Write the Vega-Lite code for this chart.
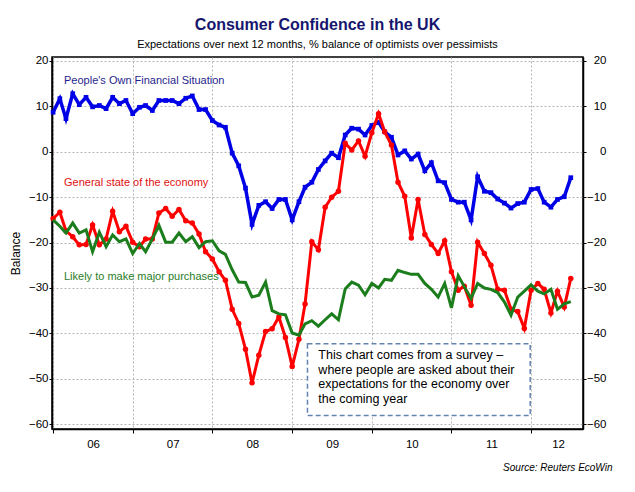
{
  "$schema": "https://vega.github.io/schema/vega-lite/v6.json",
  "width": 531,
  "height": 372,
  "autosize": {"type": "none"},
  "padding": {"left": 52, "top": 57, "right": 52, "bottom": 63},
  "background": "white",
  "config": {
    "font": "Liberation Sans",
    "view": {"stroke": "black", "strokeWidth": 1.5},
    "axis": {"labelFont": "Liberation Sans", "labelFontSize": 11.5, "labelColor": "black", "domainColor": "black", "domainWidth": 1.5, "tickColor": "black", "tickWidth": 1, "titleFont": "Liberation Sans"}
  },
  "title": {
    "text": "Consumer Confidence in the UK",
    "subtitle": "Expectations over next 12  months, % balance of optimists over pessimists",
    "anchor": "middle",
    "frame": "group",
    "font": "Liberation Sans",
    "fontSize": 16,
    "fontWeight": "bold",
    "color": "#16166e",
    "subtitleFont": "Liberation Sans",
    "subtitleFontSize": 11,
    "subtitleColor": "black",
    "subtitlePadding": 6,
    "offset": 5
  },
  "data": {"values": [
    {"s":"own","d":"2006-01-01","v":8.7},{"s":"own","d":"2006-02-01","v":11.7},{"s":"own","d":"2006-03-01","v":7.3},{"s":"own","d":"2006-04-01","v":12.8},{"s":"own","d":"2006-05-01","v":10.4},{"s":"own","d":"2006-06-01","v":12},{"s":"own","d":"2006-07-01","v":9.9},{"s":"own","d":"2006-08-01","v":10.2},{"s":"own","d":"2006-09-01","v":9.5},{"s":"own","d":"2006-10-01","v":12},{"s":"own","d":"2006-11-01","v":10.6},{"s":"own","d":"2006-12-01","v":11.3},
    {"s":"own","d":"2007-01-01","v":8.4},{"s":"own","d":"2007-02-01","v":9.8},{"s":"own","d":"2007-03-01","v":10.2},{"s":"own","d":"2007-04-01","v":9.1},{"s":"own","d":"2007-05-01","v":11.3},{"s":"own","d":"2007-06-01","v":11.3},{"s":"own","d":"2007-07-01","v":11.3},{"s":"own","d":"2007-08-01","v":10.6},{"s":"own","d":"2007-09-01","v":11.8},{"s":"own","d":"2007-10-01","v":12.3},{"s":"own","d":"2007-11-01","v":9.3},{"s":"own","d":"2007-12-01","v":9.3},
    {"s":"own","d":"2008-01-01","v":6.9},{"s":"own","d":"2008-02-01","v":5.9},{"s":"own","d":"2008-03-01","v":5.4},{"s":"own","d":"2008-04-01","v":-0.3},{"s":"own","d":"2008-05-01","v":-3.1},{"s":"own","d":"2008-06-01","v":-8},{"s":"own","d":"2008-07-01","v":-16},{"s":"own","d":"2008-08-01","v":-11.8},{"s":"own","d":"2008-09-01","v":-11},{"s":"own","d":"2008-10-01","v":-12.5},{"s":"own","d":"2008-11-01","v":-10.5},{"s":"own","d":"2008-12-01","v":-10.5},
    {"s":"own","d":"2009-01-01","v":-15},{"s":"own","d":"2009-02-01","v":-11},{"s":"own","d":"2009-03-01","v":-7.8},{"s":"own","d":"2009-04-01","v":-6.7},{"s":"own","d":"2009-05-01","v":-3.9},{"s":"own","d":"2009-06-01","v":-2},{"s":"own","d":"2009-07-01","v":-0.3},{"s":"own","d":"2009-08-01","v":-1.3},{"s":"own","d":"2009-09-01","v":3.7},{"s":"own","d":"2009-10-01","v":5.2},{"s":"own","d":"2009-11-01","v":5},{"s":"own","d":"2009-12-01","v":3.7},
    {"s":"own","d":"2010-01-01","v":5.8},{"s":"own","d":"2010-02-01","v":6.5},{"s":"own","d":"2010-03-01","v":4.4},{"s":"own","d":"2010-04-01","v":3.2},{"s":"own","d":"2010-05-01","v":-0.7},{"s":"own","d":"2010-06-01","v":0.2},{"s":"own","d":"2010-07-01","v":-1.6},{"s":"own","d":"2010-08-01","v":-0.5},{"s":"own","d":"2010-09-01","v":-4.2},{"s":"own","d":"2010-10-01","v":-2.4},{"s":"own","d":"2010-11-01","v":-6.4},{"s":"own","d":"2010-12-01","v":-6.8},
    {"s":"own","d":"2011-01-01","v":-10.5},{"s":"own","d":"2011-02-01","v":-11.1},{"s":"own","d":"2011-03-01","v":-11.1},{"s":"own","d":"2011-04-01","v":-15},{"s":"own","d":"2011-05-01","v":-5.5},{"s":"own","d":"2011-06-01","v":-8.7},{"s":"own","d":"2011-07-01","v":-9},{"s":"own","d":"2011-08-01","v":-10.4},{"s":"own","d":"2011-09-01","v":-11.3},{"s":"own","d":"2011-10-01","v":-12.4},{"s":"own","d":"2011-11-01","v":-11.4},{"s":"own","d":"2011-12-01","v":-11.1},
    {"s":"own","d":"2012-01-01","v":-8.3},{"s":"own","d":"2012-02-01","v":-8.1},{"s":"own","d":"2012-03-01","v":-11.1},{"s":"own","d":"2012-04-01","v":-12.2},{"s":"own","d":"2012-05-01","v":-10.5},{"s":"own","d":"2012-06-01","v":-9.9},{"s":"own","d":"2012-07-01","v":-5.7},
    {"s":"gen","d":"2006-01-01","v":-14.7},{"s":"gen","d":"2006-02-01","v":-13.3},{"s":"gen","d":"2006-03-01","v":-17.4},{"s":"gen","d":"2006-04-01","v":-18.7},{"s":"gen","d":"2006-05-01","v":-20.5},{"s":"gen","d":"2006-06-01","v":-20.4},{"s":"gen","d":"2006-07-01","v":-16.1},{"s":"gen","d":"2006-08-01","v":-20.5},{"s":"gen","d":"2006-09-01","v":-19.2},{"s":"gen","d":"2006-10-01","v":-13.1},{"s":"gen","d":"2006-11-01","v":-17.6},{"s":"gen","d":"2006-12-01","v":-16.4},
    {"s":"gen","d":"2007-01-01","v":-19.9},{"s":"gen","d":"2007-02-01","v":-20.9},{"s":"gen","d":"2007-03-01","v":-19.2},{"s":"gen","d":"2007-04-01","v":-19.2},{"s":"gen","d":"2007-05-01","v":-13.5},{"s":"gen","d":"2007-06-01","v":-12.5},{"s":"gen","d":"2007-07-01","v":-14.2},{"s":"gen","d":"2007-08-01","v":-12.7},{"s":"gen","d":"2007-09-01","v":-15.2},{"s":"gen","d":"2007-10-01","v":-15.7},{"s":"gen","d":"2007-11-01","v":-18.1},{"s":"gen","d":"2007-12-01","v":-22},
    {"s":"gen","d":"2008-01-01","v":-23.6},{"s":"gen","d":"2008-02-01","v":-26.4},{"s":"gen","d":"2008-03-01","v":-28.3},{"s":"gen","d":"2008-04-01","v":-34.7},{"s":"gen","d":"2008-05-01","v":-37.8},{"s":"gen","d":"2008-06-01","v":-43.5},{"s":"gen","d":"2008-07-01","v":-50.9},{"s":"gen","d":"2008-08-01","v":-44.8},{"s":"gen","d":"2008-09-01","v":-39.6},{"s":"gen","d":"2008-10-01","v":-39},{"s":"gen","d":"2008-11-01","v":-36.4},{"s":"gen","d":"2008-12-01","v":-40.9},
    {"s":"gen","d":"2009-01-01","v":-47.3},{"s":"gen","d":"2009-02-01","v":-41.3},{"s":"gen","d":"2009-03-01","v":-33.5},{"s":"gen","d":"2009-04-01","v":-19.8},{"s":"gen","d":"2009-05-01","v":-21.6},{"s":"gen","d":"2009-06-01","v":-12.2},{"s":"gen","d":"2009-07-01","v":-10},{"s":"gen","d":"2009-08-01","v":-8.7},{"s":"gen","d":"2009-09-01","v":1.9},{"s":"gen","d":"2009-10-01","v":0.4},{"s":"gen","d":"2009-11-01","v":2.4},{"s":"gen","d":"2009-12-01","v":-1},
    {"s":"gen","d":"2010-01-01","v":4.2},{"s":"gen","d":"2010-02-01","v":8.4},{"s":"gen","d":"2010-03-01","v":4.4},{"s":"gen","d":"2010-04-01","v":1.5},{"s":"gen","d":"2010-05-01","v":-6.7},{"s":"gen","d":"2010-06-01","v":-9.8},{"s":"gen","d":"2010-07-01","v":-19},{"s":"gen","d":"2010-08-01","v":-10.5},{"s":"gen","d":"2010-09-01","v":-18.2},{"s":"gen","d":"2010-10-01","v":-20.4},{"s":"gen","d":"2010-11-01","v":-22.4},{"s":"gen","d":"2010-12-01","v":-19.6},
    {"s":"gen","d":"2011-01-01","v":-26.4},{"s":"gen","d":"2011-02-01","v":-30.5},{"s":"gen","d":"2011-03-01","v":-29.6},{"s":"gen","d":"2011-04-01","v":-33.8},{"s":"gen","d":"2011-05-01","v":-19.9},{"s":"gen","d":"2011-06-01","v":-22.4},{"s":"gen","d":"2011-07-01","v":-25},{"s":"gen","d":"2011-08-01","v":-30.3},{"s":"gen","d":"2011-09-01","v":-30.5},{"s":"gen","d":"2011-10-01","v":-34.7},{"s":"gen","d":"2011-11-01","v":-35.2},{"s":"gen","d":"2011-12-01","v":-38.9},
    {"s":"gen","d":"2012-01-01","v":-30.5},{"s":"gen","d":"2012-02-01","v":-29},{"s":"gen","d":"2012-03-01","v":-30.3},{"s":"gen","d":"2012-04-01","v":-35.5},{"s":"gen","d":"2012-05-01","v":-30.7},{"s":"gen","d":"2012-06-01","v":-34.2},{"s":"gen","d":"2012-07-01","v":-27.9},
    {"s":"maj","d":"2006-01-01","v":-15},{"s":"maj","d":"2006-02-01","v":-16.4},{"s":"maj","d":"2006-03-01","v":-17.9},{"s":"maj","d":"2006-04-01","v":-15.7},{"s":"maj","d":"2006-05-01","v":-17.9},{"s":"maj","d":"2006-06-01","v":-17.2},{"s":"maj","d":"2006-07-01","v":-22},{"s":"maj","d":"2006-08-01","v":-17.7},{"s":"maj","d":"2006-09-01","v":-20.9},{"s":"maj","d":"2006-10-01","v":-18.3},{"s":"maj","d":"2006-11-01","v":-19.8},{"s":"maj","d":"2006-12-01","v":-19.2},
    {"s":"maj","d":"2007-01-01","v":-22.4},{"s":"maj","d":"2007-02-01","v":-20.2},{"s":"maj","d":"2007-03-01","v":-22},{"s":"maj","d":"2007-04-01","v":-19.2},{"s":"maj","d":"2007-05-01","v":-16.2},{"s":"maj","d":"2007-06-01","v":-19.9},{"s":"maj","d":"2007-07-01","v":-19.9},{"s":"maj","d":"2007-08-01","v":-17.9},{"s":"maj","d":"2007-09-01","v":-19.8},{"s":"maj","d":"2007-10-01","v":-18.7},{"s":"maj","d":"2007-11-01","v":-21.1},{"s":"maj","d":"2007-12-01","v":-19.8},
    {"s":"maj","d":"2008-01-01","v":-19.6},{"s":"maj","d":"2008-02-01","v":-21.8},{"s":"maj","d":"2008-03-01","v":-22.6},{"s":"maj","d":"2008-04-01","v":-26},{"s":"maj","d":"2008-05-01","v":-28.7},{"s":"maj","d":"2008-06-01","v":-28.8},{"s":"maj","d":"2008-07-01","v":-32},{"s":"maj","d":"2008-08-01","v":-31.6},{"s":"maj","d":"2008-09-01","v":-28.7},{"s":"maj","d":"2008-10-01","v":-35},{"s":"maj","d":"2008-11-01","v":-35.7},{"s":"maj","d":"2008-12-01","v":-35.9},
    {"s":"maj","d":"2009-01-01","v":-39.9},{"s":"maj","d":"2009-02-01","v":-40.4},{"s":"maj","d":"2009-03-01","v":-37.9},{"s":"maj","d":"2009-04-01","v":-37.2},{"s":"maj","d":"2009-05-01","v":-38.4},{"s":"maj","d":"2009-06-01","v":-37},{"s":"maj","d":"2009-07-01","v":-35.7},{"s":"maj","d":"2009-08-01","v":-37},{"s":"maj","d":"2009-09-01","v":-30.2},{"s":"maj","d":"2009-10-01","v":-28.7},{"s":"maj","d":"2009-11-01","v":-29.4},{"s":"maj","d":"2009-12-01","v":-31.5},
    {"s":"maj","d":"2010-01-01","v":-29},{"s":"maj","d":"2010-02-01","v":-30},{"s":"maj","d":"2010-03-01","v":-28.1},{"s":"maj","d":"2010-04-01","v":-28.3},{"s":"maj","d":"2010-05-01","v":-26.1},{"s":"maj","d":"2010-06-01","v":-26.6},{"s":"maj","d":"2010-07-01","v":-27},{"s":"maj","d":"2010-08-01","v":-27},{"s":"maj","d":"2010-09-01","v":-29},{"s":"maj","d":"2010-10-01","v":-30.3},{"s":"maj","d":"2010-11-01","v":-32},{"s":"maj","d":"2010-12-01","v":-29},
    {"s":"maj","d":"2011-01-01","v":-34.4},{"s":"maj","d":"2011-02-01","v":-27.3},{"s":"maj","d":"2011-03-01","v":-29.7},{"s":"maj","d":"2011-04-01","v":-32.3},{"s":"maj","d":"2011-05-01","v":-29},{"s":"maj","d":"2011-06-01","v":-30},{"s":"maj","d":"2011-07-01","v":-30.3},{"s":"maj","d":"2011-08-01","v":-31},{"s":"maj","d":"2011-09-01","v":-33.1},{"s":"maj","d":"2011-10-01","v":-36},{"s":"maj","d":"2011-11-01","v":-32},{"s":"maj","d":"2011-12-01","v":-30.7},
    {"s":"maj","d":"2012-01-01","v":-29.3},{"s":"maj","d":"2012-02-01","v":-30.7},{"s":"maj","d":"2012-03-01","v":-31.3},{"s":"maj","d":"2012-04-01","v":-30.3},{"s":"maj","d":"2012-05-01","v":-34.7},{"s":"maj","d":"2012-06-01","v":-33.5},{"s":"maj","d":"2012-07-01","v":-33}
  ]},
  "encoding": {
    "x": {
      "field": "d",
      "type": "temporal",
      "scale": {"type": "utc", "domain": [{"year": 2005, "month": 12, "date": 27, "utc": true}, {"year": 2012, "month": 8, "date": 26, "utc": true}], "nice": false},
      "axis": {
        "orient": "bottom",
        "values": [{"year": 2006, "month": 1, "date": 1, "utc": true}, {"year": 2007, "month": 1, "date": 1, "utc": true}, {"year": 2008, "month": 1, "date": 1, "utc": true}, {"year": 2009, "month": 1, "date": 1, "utc": true}, {"year": 2010, "month": 1, "date": 1, "utc": true}, {"year": 2011, "month": 1, "date": 1, "utc": true}, {"year": 2012, "month": 1, "date": 1, "utc": true}],
        "labelExpr": "utcFormat(datum.value, '%y')",
        "grid": true,
        "gridDash": [2, 2],
        "gridColor": "#b4b4b4",
        "tickSize": 4,
        "labelPadding": 5,
        "labelFlush": false,
        "labelOverlap": false,
        "labelAlign": "center",
        "labelOffset": {"condition": {"test": "utcyear(datum.value) == 2012", "value": 27}, "value": 40},
        "title": "Source: Reuters EcoWin",
        "titleFontStyle": "italic",
        "titleFontWeight": "normal",
        "titleFontSize": 10,
        "titleColor": "black",
        "titleAnchor": "end",
        "titleAlign": "right",
        "titleBaseline": "middle",
        "titleX": 560,
        "titleY": 38
      }
    }
  },
  "resolve": {"scale": {"y": "shared"}, "axis": {"y": "independent"}},
  "layer": [
    {
      "transform": [{"filter": "datum.s == 'own'"}],
      "mark": {"type": "line", "color": "#0000e6", "strokeWidth": 3.5, "point": {"shape": "square", "size": 22, "filled": true, "color": "#0000e6"}},
      "encoding": {
        "y": {
          "field": "v", "type": "quantitative",
          "scale": {"domain": [-61.06, 20.88], "nice": false, "zero": false},
          "axis": {"orient": "left", "values": [-60, -50, -40, -30, -20, -10, 0, 10, 20], "grid": true, "gridDash": [2, 2], "gridColor": "#b4b4b4", "tickSize": 3, "labelPadding": 1, "title": "Balance", "titleFontSize": 12, "titleFontWeight": "normal", "titleColor": "black", "titleAngle": -90, "titleX": -30, "titleY": 196, "titleBaseline": "bottom", "titleAlign": "center"}
        }
      }
    },
    {
      "transform": [{"filter": "datum.s == 'gen'"}],
      "mark": {"type": "line", "color": "#ff0000", "strokeWidth": 3, "point": {"shape": "circle", "size": 30, "filled": true, "color": "#ff0000"}},
      "encoding": {
        "y": {
          "field": "v", "type": "quantitative",
          "scale": {"domain": [-61.06, 20.88], "nice": false, "zero": false},
          "axis": {"orient": "right", "values": [-60, -50, -40, -30, -20, -10, 0, 10, 20], "grid": false, "tickSize": 3, "labelPadding": 20, "labelAlign": "right", "title": null}
        }
      }
    },
    {
      "transform": [{"filter": "datum.s == 'maj'"}],
      "mark": {"type": "line", "color": "#1b7d1b", "strokeWidth": 3},
      "encoding": {
        "y": {"field": "v", "type": "quantitative", "scale": {"domain": [-61.06, 20.88], "nice": false, "zero": false}, "axis": null}
      }
    },
    {
      "data": {"values": [
        {"d": "2006-02-20", "v": 15.6, "t": "People's Own Financial Situation", "s": "own"},
        {"d": "2006-02-20", "v": -6.8, "t": "General state of the economy", "s": "gen"},
        {"d": "2006-02-20", "v": -27.6, "t": "Likely to make major purchases", "s": "maj"}
      ]},
      "mark": {"type": "text", "align": "left", "baseline": "middle", "fontSize": 11, "font": "Liberation Sans"},
      "encoding": {
        "y": {"field": "v", "type": "quantitative", "scale": {"domain": [-61.06, 20.88], "nice": false, "zero": false}, "axis": null},
        "text": {"field": "t", "type": "nominal"},
        "color": {"field": "s", "type": "nominal", "scale": {"domain": ["own", "gen", "maj"], "range": ["#1f1f8c", "#e01010", "#2a7d2a"]}, "legend": null}
      }
    },
    {
      "data": {"values": [
        {"d": "2009-03-12", "d2": "2011-12-28", "v": -42.3, "v2": -58.1}
      ]},
      "mark": {"type": "rect", "fill": "white", "stroke": "#6383b5", "strokeWidth": 1.5, "strokeDash": [5, 3]},
      "encoding": {
        "x2": {"field": "d2"},
        "y": {"field": "v", "type": "quantitative", "scale": {"domain": [-61.06, 20.88], "nice": false, "zero": false}, "axis": null},
        "y2": {"field": "v2"}
      }
    },
    {
      "data": {"values": [
        {"d": "2009-05-01", "v": -43.4, "t": ["This chart comes from a survey \u2013", "where people are asked about their", "expectations for the economy over", "the coming year"]}
      ]},
      "mark": {"type": "text", "align": "left", "baseline": "top", "fontSize": 12.5, "lineHeight": 14.7, "font": "Liberation Sans", "color": "black"},
      "encoding": {
        "y": {"field": "v", "type": "quantitative", "scale": {"domain": [-61.06, 20.88], "nice": false, "zero": false}, "axis": null},
        "text": {"field": "t", "type": "nominal"}
      }
    }
  ]
}
